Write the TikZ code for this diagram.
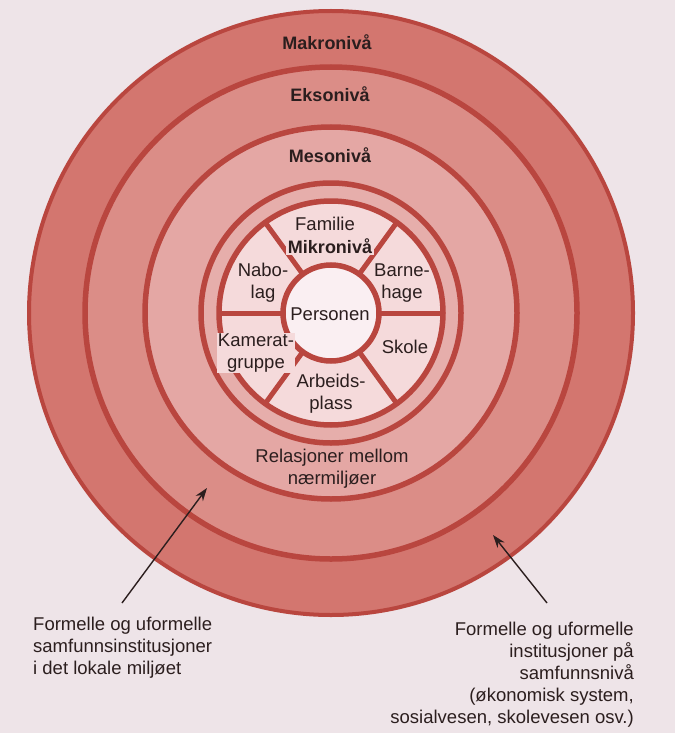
\documentclass[tikz,border=0pt]{standalone}
\usepackage{fontspec}
\setmainfont{Liberation Sans}
\usetikzlibrary{arrows.meta,calc}
\definecolor{bgc}{HTML}{EEE4E8}
\definecolor{makroc}{HTML}{D3766F}
\definecolor{eksoc}{HTML}{DB8D87}
\definecolor{mesoc}{HTML}{E4A7A4}
\definecolor{bandc}{HTML}{E6AEAB}
\definecolor{sectc}{HTML}{F5DADB}
\definecolor{persc}{HTML}{FAEFF2}
\definecolor{ringc}{HTML}{B9463F}
\definecolor{inkc}{HTML}{2B1E1E}
\begin{document}
\begin{tikzpicture}[x=1pt,y=-1pt,
  ring/.style={draw=ringc,line width=5.5pt},
  spoke/.style={draw=ringc,line width=5pt},
  lbl/.style={font=\fontsize{18.5}{22}\selectfont,text=inkc,inner sep=0pt},
  lblb/.style={lbl,font=\fontsize{18}{22}\selectfont\bfseries},
  arr/.style={draw=inkc,line width=1.4pt,-{Stealth[length=13pt,width=9pt]}}]
\useasboundingbox (0,0) rectangle (675,733);
\fill[bgc] (0,0) rectangle (675,733);
\coordinate (c) at (331,313);
\path[ring,fill=makroc,line width=4pt] (c) circle[radius=302];
\path[ring,fill=eksoc] (c) circle[radius=246];
\path[ring,fill=mesoc] (c) circle[radius=186];
\path[ring,fill=bandc] (c) circle[radius=130];
\path[ring,fill=sectc] (c) circle[radius=112];
\foreach \a in {0,54,126,180,234,306}
  \draw[spoke] ($(c)+(\a:40)$) -- ($(c)+(\a:112)$);
\path[ring,fill=persc] (c) circle[radius=48];
% labels
\node[lblb,anchor=base] (makro) at (327,50) {Makronivå};
\node[lblb,anchor=base] (ekso) at (330,102) {Eksonivå};
\node[lblb,anchor=base] (meso) at (330,162) {Mesonivå};
\node[lbl,anchor=base] (fam) at (325,230) {Familie};
\node[lblb,anchor=base,fill=sectc,inner sep=2pt] (mikro) at (330,253) {Mikronivå};
\node[lbl,align=center] (nabo) at (263,283) {Nabo-\\lag};
\node[lbl,align=center] (barne) at (402,283) {Barne-\\hage};
\node[lbl,anchor=base] (pers) at (330,320) {Personen};
\node[lbl,align=center,fill=sectc,inner sep=1pt] (kam) at (256,353) {Kamerat-\\gruppe};
\node[lbl,anchor=base] (skole) at (405,353) {Skole};
\node[lbl,align=center] (arb) at (331,394) {Arbeids-\\plass};
\node[lbl,align=center] (rel) at (332,469) {Relasjoner mellom\\nærmiljøer};
\node[lbl,align=left,anchor=north west] (capL) at (33,617) {Formelle og uformelle\\samfunnsinstitusjoner\\i det lokale miljøet};
\node[lbl,align=right,anchor=north east] (capR) at (634,622) {Formelle og uformelle\\institusjoner på\\samfunnsnivå\\(økonomisk system,\\sosialvesen, skolevesen osv.)};
% arrows
\coordinate (tailL) at (122,603);
\coordinate (tipL) at (207,488);
\coordinate (tailR) at (547,603);
\coordinate (tipR) at (493,535);
\draw[arr] (tailL) -- (tipL);
\draw[arr] (tailR) -- (tipR);
\end{tikzpicture}
\end{document}
